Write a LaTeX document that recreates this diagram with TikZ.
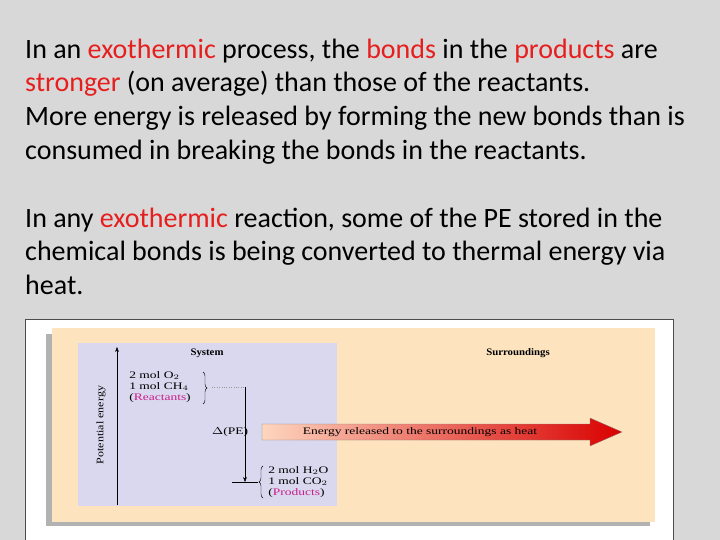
\documentclass[tikz,border=0pt]{standalone}
\usepackage{fontspec}
\setmainfont{Carlito}
\newfontfamily\fig{Liberation Serif}
\usetikzlibrary{arrows.meta,decorations.pathreplacing,shadings}
\definecolor{bg}{RGB}{216,216,216}
\definecolor{hl}{RGB}{230,30,30}
\definecolor{orng}{RGB}{253,228,190}
\definecolor{blu}{RGB}{218,216,238}
\definecolor{mag}{RGB}{200,30,140}
\tikzset{txt/.style={anchor=base west,inner sep=0pt,font=\fontsize{28}{32}\selectfont},
 ftxt/.style={inner sep=0pt,xscale=1.35,font=\fig\fontsize{10}{11}\selectfont}}
\newcommand{\R}[1]{\textcolor{hl}{#1}}
\begin{document}
\begin{tikzpicture}[x=1pt,y=-1pt]
\useasboundingbox (0,0) rectangle (720,540);
\fill[bg] (0,0) rectangle (720,540);
\node[txt] (l1) at (25,59) {In an \R{exothermic} process, the \R{bonds} in the \R{products} are};
\node[txt] (l2) at (25,92) {\R{stronger} (on average) than those of the reactants.};
\node[txt] (l3) at (25,126) {More energy is released by forming the new bonds than is};
\node[txt] (l4) at (25,160) {consumed in breaking the bonds in the reactants.};
\node[txt] (l5) at (25,227) {In any \R{exothermic} reaction, some of the PE stored in the};
\node[txt] (l6) at (25,260) {chemical bonds is being converted to thermal energy via};
\node[txt] (l7) at (25,294) {heat.};
\fill[white] (25,319) rectangle (673,540);
\draw[black!70] (25,319) -- (673,319) -- (673,540) (25,319) -- (25,540);
\fill[gray!60] (46,334) rectangle (650,526);
\fill[orng] (52,328) rectangle (655,522);
\fill[blu] (78,343) rectangle (337,506);
\draw[-{Stealth[length=5pt]}] (117,505) -- (117,347);
\node[inner sep=0pt,font=\fig\fontsize{10}{11}\selectfont,rotate=90,xscale=1.2] (pe) at (101,425) {Potential energy};
\node[ftxt,font=\fig\bfseries\fontsize{10}{11}\selectfont,xscale=0.8] (sys) at (207,353) {System};
\node[ftxt,font=\fig\bfseries\fontsize{10}{11}\selectfont,xscale=0.8] (sur) at (518,353) {Surroundings};
\node[ftxt,anchor=west,align=left] (rea) at (129,387) {2 mol O$_2$\\1 mol CH$_4$\\(\textcolor{mag}{Reactants})};
\draw[decorate,decoration={brace,amplitude=4pt}] (203,372) -- (203,404);
\coordinate (rtop) at (245,387);
\draw[black!40,dotted] (212,387) -- (rtop);
\coordinate (pbot) at (245,482);
\draw[-{Stealth[length=5pt]}] (rtop) -- (pbot);
\draw (232,482) -- (258,482);
\draw[decorate,decoration={brace,amplitude=4pt,mirror}] (263,466) -- (263,498);
\node[ftxt,anchor=west,align=left] (pro) at (268,482) {2 mol H$_2$O\\1 mol CO$_2$\\(\textcolor{mag}{Products})};
\node[ftxt] (dpe) at (230,432) {$\Delta$(PE)};
\shade[left color=orng!60!pink, right color=red!85!black, draw=black!50,line width=0.3pt]
 (262,424) -- (590,424) -- (590,418) -- (622,432) -- (590,446) -- (590,440) -- (262,440) -- cycle;
\node[ftxt] (en) at (420,432) {Energy released to the surroundings as heat};
\end{tikzpicture}
\end{document}
